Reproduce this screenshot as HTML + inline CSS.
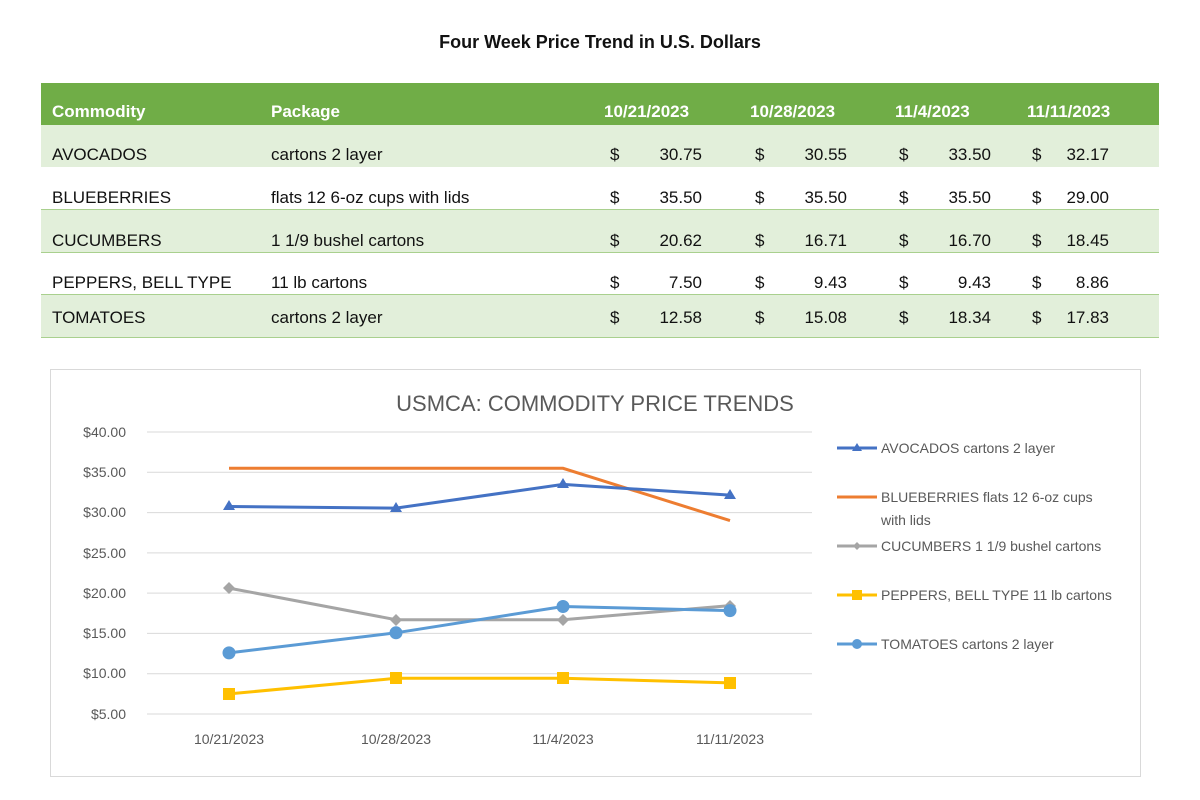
<!DOCTYPE html>
<html><head><meta charset="utf-8"><style>
body{margin:0;width:1200px;height:800px;background:#fff;font-family:"Liberation Sans",sans-serif;position:relative;overflow:hidden}
.a{position:absolute;white-space:nowrap}
.t{font-size:17px;color:#111}
.h{font-size:17px;color:#fff;font-weight:bold}
.r{text-align:right}
</style></head><body>
<div class="a" style="left:0;width:1200px;top:32px;text-align:center;font-weight:bold;font-size:18px;color:#111">Four Week Price Trend in U.S. Dollars</div>
<div class="a" style="left:41px;top:83px;width:1118px;height:42px;background:#70ad47"></div>
<div class="a" style="left:41px;top:125px;width:1118px;height:42px;background:#e2efda;border-bottom:1px solid #a9d08e"></div>
<div class="a" style="left:41px;top:167px;width:1118px;height:42px;background:#fff;border-bottom:1px solid #a9d08e"></div>
<div class="a" style="left:41px;top:210px;width:1118px;height:42px;background:#e2efda;border-bottom:1px solid #a9d08e"></div>
<div class="a" style="left:41px;top:253px;width:1118px;height:41px;background:#fff;border-bottom:1px solid #a9d08e"></div>
<div class="a" style="left:41px;top:295px;width:1118px;height:42px;background:#e2efda;border-bottom:1px solid #a9d08e"></div>
<div class="a h" style="left:52px;top:102px">Commodity</div>
<div class="a h" style="left:271px;top:102px">Package</div>
<div class="a h" style="left:604px;top:102px">10/21/2023</div>
<div class="a h" style="left:750px;top:102px">10/28/2023</div>
<div class="a h" style="left:895px;top:102px">11/4/2023</div>
<div class="a h" style="left:1027px;top:102px">11/11/2023</div>
<div id="rows"></div>
<svg class="a" style="left:0;top:0" width="1200" height="800">
<rect x="50.5" y="369.5" width="1090" height="407" fill="none" stroke="#d9d9d9"/>
<text x="595" y="411" text-anchor="middle" font-size="22" fill="#595959" font-family="Liberation Sans">USMCA: COMMODITY PRICE TRENDS</text>
<g stroke="#d9d9d9" stroke-width="1">
<line x1="147" x2="812" y1="432" y2="432"/><line x1="147" x2="812" y1="472.3" y2="472.3"/><line x1="147" x2="812" y1="512.6" y2="512.6"/><line x1="147" x2="812" y1="552.9" y2="552.9"/><line x1="147" x2="812" y1="593.1" y2="593.1"/><line x1="147" x2="812" y1="633.4" y2="633.4"/><line x1="147" x2="812" y1="673.7" y2="673.7"/><line x1="147" x2="812" y1="714" y2="714"/>
</g>
<g font-size="14" fill="#595959" text-anchor="end" font-family="Liberation Sans">
<text x="126" y="437">$40.00</text><text x="126" y="477">$35.00</text><text x="126" y="517">$30.00</text><text x="126" y="558">$25.00</text><text x="126" y="598">$20.00</text><text x="126" y="638">$15.00</text><text x="126" y="678">$10.00</text><text x="126" y="719">$5.00</text>
</g>
<g font-size="14" fill="#595959" text-anchor="middle" font-family="Liberation Sans">
<text x="229" y="744">10/21/2023</text><text x="396" y="744">10/28/2023</text><text x="563" y="744">11/4/2023</text><text x="730" y="744">11/11/2023</text>
</g>
<polyline points="229,468.3 396,468.3 563,468.3 730,520.6" fill="none" stroke="#ed7d31" stroke-width="3"/>
<polyline points="229,506.5 396,508.1 563,484.4 730,495.1" fill="none" stroke="#4472c4" stroke-width="3"/>
<g fill="#4472c4"><path d="M229,500 l6,10 h-12z"/><path d="M396,502 l6,10 h-12z"/><path d="M563,478 l6,10 h-12z"/><path d="M730,489 l6,10 h-12z"/></g>
<polyline points="229,588.1 396,619.7 563,619.7 730,605.6" fill="none" stroke="#a5a5a5" stroke-width="3"/>
<g fill="#a5a5a5"><path d="M229,582 l6,6 -6,6 -6,-6z"/><path d="M396,614 l6,6 -6,6 -6,-6z"/><path d="M563,614 l6,6 -6,6 -6,-6z"/><path d="M730,600 l6,6 -6,6 -6,-6z"/></g>
<polyline points="229,693.9 396,678.3 563,678.3 730,682.9" fill="none" stroke="#ffc000" stroke-width="3"/>
<g fill="#ffc000"><rect x="223" y="688" width="12" height="12"/><rect x="390" y="672" width="12" height="12"/><rect x="557" y="672" width="12" height="12"/><rect x="724" y="677" width="12" height="12"/></g>
<polyline points="229,652.9 396,632.8 563,606.5 730,610.6" fill="none" stroke="#5b9bd5" stroke-width="3"/>
<g fill="#5b9bd5"><circle cx="229" cy="652.9" r="6.5"/><circle cx="396" cy="632.8" r="6.5"/><circle cx="563" cy="606.5" r="6.5"/><circle cx="730" cy="610.6" r="6.5"/></g>
<g stroke-width="3"><line x1="837" x2="877" y1="448" y2="448" stroke="#4472c4"/><line x1="837" x2="877" y1="497" y2="497" stroke="#ed7d31"/><line x1="837" x2="877" y1="546" y2="546" stroke="#a5a5a5"/><line x1="837" x2="877" y1="595" y2="595" stroke="#ffc000"/><line x1="837" x2="877" y1="644" y2="644" stroke="#5b9bd5"/></g>
<path d="M857,443 l5,8 h-10z" fill="#4472c4"/><path d="M857,542 l4,4 -4,4 -4,-4z" fill="#a5a5a5"/><rect x="852" y="590" width="10" height="10" fill="#ffc000"/><circle cx="857" cy="644" r="5" fill="#5b9bd5"/>
<g font-size="14" fill="#595959" font-family="Liberation Sans">
<text x="881" y="453">AVOCADOS cartons 2 layer</text>
<text x="881" y="502">BLUEBERRIES flats 12 6-oz cups</text><text x="881" y="525">with lids</text>
<text x="881" y="551">CUCUMBERS 1 1/9 bushel cartons</text>
<text x="881" y="600">PEPPERS, BELL TYPE 11 lb cartons</text>
<text x="881" y="649">TOMATOES cartons 2 layer</text>
</g>
</svg>
<div class="a t" style="left:52px;top:145px">AVOCADOS</div><div class="a t" style="left:271px;top:145px">cartons 2 layer</div>
<div class="a t" style="left:52px;top:188px">BLUEBERRIES</div><div class="a t" style="left:271px;top:188px">flats 12 6-oz cups with lids</div>
<div class="a t" style="left:52px;top:231px">CUCUMBERS</div><div class="a t" style="left:271px;top:231px">1 1/9 bushel cartons</div>
<div class="a t" style="left:52px;top:273px">PEPPERS, BELL TYPE</div><div class="a t" style="left:271px;top:273px">11 lb cartons</div>
<div class="a t" style="left:52px;top:308px">TOMATOES</div><div class="a t" style="left:271px;top:308px">cartons 2 layer</div>
<div class="a t" style="left:610px;top:145px">$</div><div class="a t" style="left:755px;top:145px">$</div><div class="a t" style="left:899px;top:145px">$</div><div class="a t" style="left:1032px;top:145px">$</div>
<div class="a t" style="left:610px;top:188px">$</div><div class="a t" style="left:755px;top:188px">$</div><div class="a t" style="left:899px;top:188px">$</div><div class="a t" style="left:1032px;top:188px">$</div>
<div class="a t" style="left:610px;top:231px">$</div><div class="a t" style="left:755px;top:231px">$</div><div class="a t" style="left:899px;top:231px">$</div><div class="a t" style="left:1032px;top:231px">$</div>
<div class="a t" style="left:610px;top:273px">$</div><div class="a t" style="left:755px;top:273px">$</div><div class="a t" style="left:899px;top:273px">$</div><div class="a t" style="left:1032px;top:273px">$</div>
<div class="a t" style="left:610px;top:308px">$</div><div class="a t" style="left:755px;top:308px">$</div><div class="a t" style="left:899px;top:308px">$</div><div class="a t" style="left:1032px;top:308px">$</div>
<div class="a t r" style="left:600px;width:102px;top:145px">30.75</div><div class="a t r" style="left:745px;width:102px;top:145px">30.55</div><div class="a t r" style="left:889px;width:102px;top:145px">33.50</div><div class="a t r" style="left:1007px;width:102px;top:145px">32.17</div>
<div class="a t r" style="left:600px;width:102px;top:188px">35.50</div><div class="a t r" style="left:745px;width:102px;top:188px">35.50</div><div class="a t r" style="left:889px;width:102px;top:188px">35.50</div><div class="a t r" style="left:1007px;width:102px;top:188px">29.00</div>
<div class="a t r" style="left:600px;width:102px;top:231px">20.62</div><div class="a t r" style="left:745px;width:102px;top:231px">16.71</div><div class="a t r" style="left:889px;width:102px;top:231px">16.70</div><div class="a t r" style="left:1007px;width:102px;top:231px">18.45</div>
<div class="a t r" style="left:600px;width:102px;top:273px">7.50</div><div class="a t r" style="left:745px;width:102px;top:273px">9.43</div><div class="a t r" style="left:889px;width:102px;top:273px">9.43</div><div class="a t r" style="left:1007px;width:102px;top:273px">8.86</div>
<div class="a t r" style="left:600px;width:102px;top:308px">12.58</div><div class="a t r" style="left:745px;width:102px;top:308px">15.08</div><div class="a t r" style="left:889px;width:102px;top:308px">18.34</div><div class="a t r" style="left:1007px;width:102px;top:308px">17.83</div>
</body></html>
